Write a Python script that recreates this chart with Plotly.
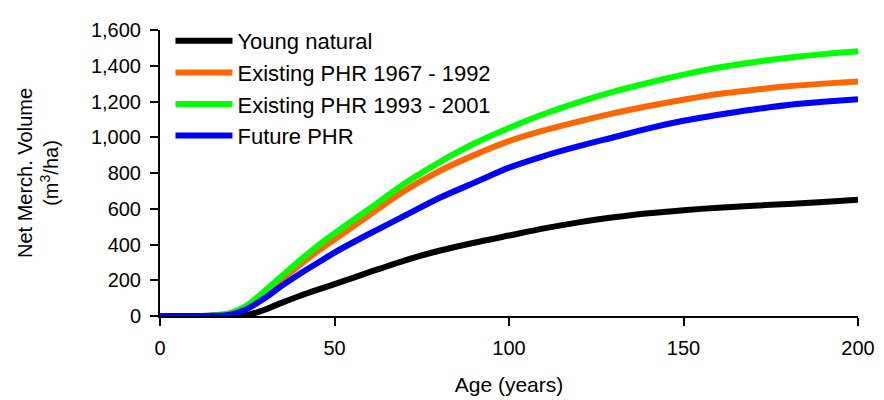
import plotly.graph_objects as go

# Age (years) and net merchantable volume (m3/ha) for each yield curve
ages = [0, 10, 15, 20, 25, 30, 35, 40, 45, 50, 60, 70, 80, 90, 100,
        110, 120, 130, 140, 150, 160, 170, 180, 190, 200]

young_natural = [0, 0, 0, 0, 6, 35, 75, 112, 146, 178, 245, 310, 365, 410, 450,
                 490, 524, 552, 575, 592, 606, 617, 627, 638, 650]
phr_1967_1992 = [0, 0, 3, 14, 55, 125, 205, 285, 360, 428, 565, 700, 810, 900, 978,
                 1038, 1088, 1135, 1175, 1210, 1242, 1265, 1285, 1300, 1312]
phr_1993_2001 = [0, 0, 3, 15, 60, 140, 225, 310, 390, 462, 600, 740, 860, 965, 1052,
                 1130, 1197, 1255, 1305, 1350, 1390, 1420, 1445, 1465, 1481]
future_phr = [0, 0, 1, 8, 40, 100, 170, 235, 295, 355, 460, 560, 660, 745, 830,
              895, 950, 1000, 1050, 1092, 1126, 1155, 1180, 1198, 1213]

series = [
    ("Young natural", young_natural, "#000000"),
    ("Existing PHR 1967 - 1992", phr_1967_1992, "#FF6600"),
    ("Existing PHR 1993 - 2001", phr_1993_2001, "#00FF00"),
    ("Future PHR", future_phr, "#0000FF"),
]

fig = go.Figure()
for name, vals, color in series:
    fig.add_trace(go.Scatter(
        x=ages, y=vals, mode="lines", name=name,
        line=dict(color=color, width=6, shape="spline", smoothing=0.8),
    ))

font = "Liberation Sans, Arial, sans-serif"
# page body has an 8px margin, so margins are pulled in by 8px
fig.update_layout(
    width=884, height=400,
    margin=dict(l=152, r=34, t=15, b=92),
    plot_bgcolor="white", paper_bgcolor="white",
    font=dict(family=font, size=20, color="black"),
    showlegend=True,
    legend=dict(x=0.015, y=1.035, xanchor="left", yanchor="top",
                bgcolor="rgba(0,0,0,0)", font=dict(size=22),
                itemwidth=57),
)
fig.update_xaxes(
    range=[0, 200], tickvals=[0, 50, 100, 150, 200],
    showline=True, linecolor="black", linewidth=2,
    ticks="outside", ticklen=8, tickwidth=2, tickcolor="black",
    ticklabelstandoff=5,
    showgrid=False, zeroline=False,
    title=dict(text="Age (years)", font=dict(size=21), standoff=19),
)
fig.update_yaxes(
    range=[0, 1600], tickvals=list(range(0, 1601, 200)), tickformat=",d",
    showline=True, linecolor="black", linewidth=2,
    ticks="outside", ticklen=8, tickwidth=2, tickcolor="black",
    ticklabelstandoff=5,
    showgrid=False, zeroline=False,
    title=dict(text="Net Merch. Volume<br>(m<sup>3</sup>/ha)", font=dict(size=20), standoff=27),
)

fig.write_html("out.html")
